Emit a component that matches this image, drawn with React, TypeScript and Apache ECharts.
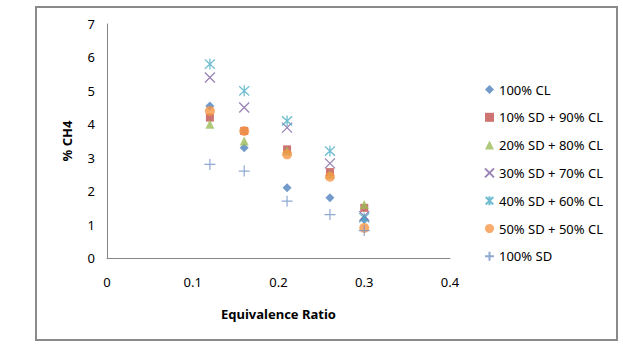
import React, { useEffect, useRef } from "react";
import * as echarts from "echarts";

const ratios = [0.12, 0.16, 0.21, 0.26, 0.3];
const cl100 = [4.55, 3.3, 2.1, 1.8, 1.15];
const sd10cl90 = [4.2, 3.8, 3.25, 2.57, 1.5];
const sd20cl80 = [4.0, 3.5, 3.2, 2.5, 1.6];
const sd30cl70 = [5.4, 4.5, 3.9, 2.83, 1.25];
const sd40cl60 = [5.8, 5.0, 4.1, 3.2, 1.2];
const sd50cl50 = [4.4, 3.8, 3.1, 2.43, 0.9];
const sd100 = [2.8, 2.6, 1.7, 1.3, 0.82];

const seriesNames = [
  "100% CL",
  "10% SD + 90% CL",
  "20% SD + 80% CL",
  "30% SD + 70% CL",
  "40% SD + 60% CL",
  "50% SD + 50% CL",
  "100% SD",
];
const seriesValues = [cl100, sd10cl90, sd20cl80, sd30cl70, sd40cl60, sd50cl50, sd100];
const xTicks = [0, 0.1, 0.2, 0.3, 0.4];

const FONT = "'Noto Sans', sans-serif";

const styles: any[] = [
  { symbol: "diamond", symbolSize: [9, 9], itemStyle: { color: "#4F81BD" } },
  { symbol: "rect", symbolSize: [8, 8], itemStyle: { color: "#C0504D" } },
  { symbol: "triangle", symbolSize: [9, 9], itemStyle: { color: "#9BBB59" } },
  {
    symbol: "path://M0,0L10,10M10,0L0,10",
    symbolSize: [10, 10],
    itemStyle: { color: "transparent", borderColor: "#8064A2", borderWidth: 1.3 },
  },
  {
    symbol: "path://M0,0L10,10M10,0L0,10M5,-1L5,11",
    symbolSize: [10, 11],
    itemStyle: { color: "transparent", borderColor: "#4BACC6", borderWidth: 1.3 },
  },
  { symbol: "circle", symbolSize: [10, 10], itemStyle: { color: "#F79646" } },
  {
    symbol: "path://M5,0L5,10M0,5L10,5",
    symbolSize: [11, 11],
    itemStyle: { color: "transparent", borderColor: "#7394C8", borderWidth: 1.2 },
  },
];

export default function App() {
  const ref = useRef<HTMLDivElement>(null);
  useEffect(() => {
    if (!ref.current) return;
    const chart = echarts.init(ref.current, undefined, { renderer: "svg" });
    chart.setOption({
      animation: false,
      backgroundColor: "#ffffff",
      textStyle: { fontFamily: FONT },
      graphic: [
        {
          type: "rect",
          shape: { x: 36, y: 7, width: 581, height: 333 },
          style: { fill: "none", stroke: "#8a8a8a", lineWidth: 2 },
          silent: true,
        },
      ],
      grid: { left: 107, top: 24, width: 343, height: 234 },
      legend: {
        orient: "vertical",
        left: 479,
        top: 78,
        itemWidth: 9,
        itemHeight: 9,
        itemGap: 14.8,
        data: seriesNames,
        textStyle: { fontFamily: FONT, fontSize: 13, color: "#000" },
      },
      xAxis: {
        type: "value",
        min: 0,
        max: 0.4,
        interval: 0.1,
        name: "Equivalence Ratio",
        nameLocation: "middle",
        nameGap: 49,
        nameTextStyle: { fontFamily: FONT, fontSize: 13, fontWeight: "bold", color: "#000" },
        axisLine: { show: true, lineStyle: { color: "#868686", width: 1 } },
        axisTick: { show: false },
        splitLine: { show: false },
        axisLabel: {
          margin: 17,
          fontFamily: FONT,
          fontSize: 13,
          color: "#000",
          formatter: (v: number) => {
            const t = xTicks.find((k) => Math.abs(k - v) < 1e-9);
            return t === undefined ? "" : String(t);
          },
        },
      },
      yAxis: {
        type: "value",
        min: 0,
        max: 7,
        interval: 1,
        name: "% CH4",
        nameLocation: "middle",
        nameGap: 34,
        nameTextStyle: { fontFamily: FONT, fontSize: 13, fontWeight: "bold", color: "#000" },
        axisLine: { show: true, lineStyle: { color: "#868686", width: 1 } },
        axisTick: { show: false },
        splitLine: { show: false },
        axisLabel: { margin: 12, fontFamily: FONT, fontSize: 13, color: "#000" },
      },
      series: seriesNames.map((name, i) => ({
        name,
        type: "scatter",
        data: ratios.map((r, j) => [r, seriesValues[i][j]]),
        ...styles[i],
        emphasis: { disabled: true },
      })),
    });
    return () => chart.dispose();
  }, []);
  return (
    <div
      ref={ref}
      style={{ position: "absolute", left: 0, top: 0, width: 623, height: 346 }}
    />
  );
}
